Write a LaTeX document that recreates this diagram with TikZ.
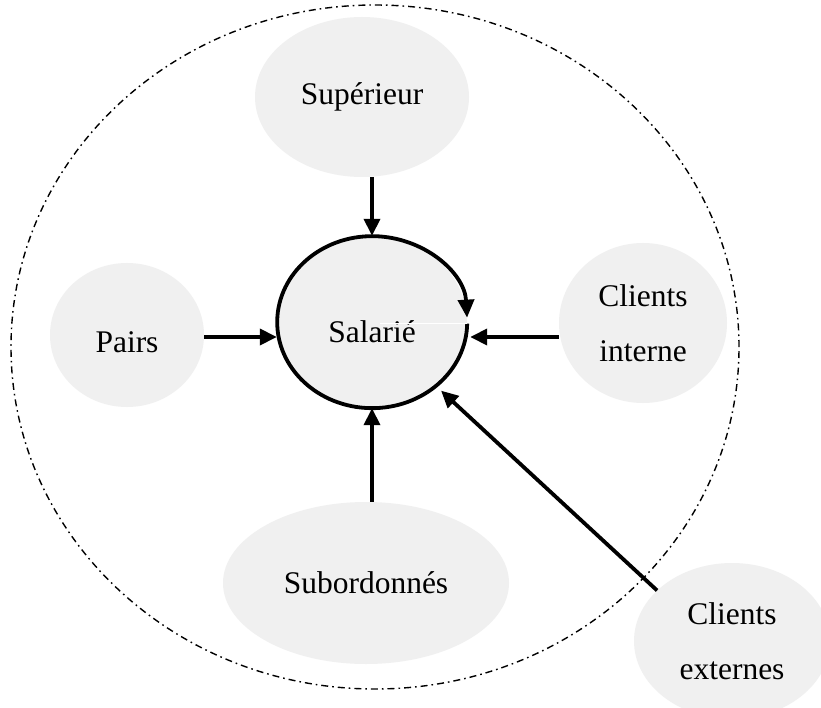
\documentclass[tikz,border=0pt]{standalone}
\usepackage{fontspec}
\setmainfont{Liberation Serif}
\usetikzlibrary{shapes.geometric,arrows.meta}
\definecolor{bubblegray}{RGB}{240,240,240}
\tikzset{
  bubble/.style={ellipse, fill=bubblegray, draw=none, inner sep=0pt, align=center,
    font=\fontsize{31.5}{55}\selectfont},
  arr/.style={line width=3.8pt, -{Triangle[length=17pt,width=16pt]}},
  envline/.style={draw=black, line width=1.4pt, dash pattern=on 7pt off 4pt on 1.6pt off 4pt},
}
\begin{document}
\begin{tikzpicture}[x=1pt, y=-1pt]
  \fill[white] (0,0) rectangle (821,708);
  \useasboundingbox (0,0) rectangle (821,708);

  % environment boundary
  \node[ellipse, envline, inner sep=0pt, minimum width=728pt, minimum height=684pt] (env) at (375,347) {};

  % actors around the employee
  \node[bubble, minimum width=214pt, minimum height=160pt] (sup) at (362,97) {Supérieur};
  \node[bubble, minimum width=154pt, minimum height=144pt,
        label={[font=\fontsize{31.5}{55}\selectfont, yshift=-7pt]center:Pairs}] (pairs) at (127,335) {};
  \node[bubble, minimum width=168pt, minimum height=160pt] (cint) at (643,323) {Clients\\interne};
  \node[bubble, minimum width=286pt, minimum height=162pt] (sub) at (366,583) {Subordonnés};
  \node[bubble, minimum width=196pt, minimum height=156pt] (cext) at (732,641) {Clients\\externes};

  % the employee
  \node[bubble, minimum width=190pt, minimum height=172pt,
        label={[font=\fontsize{31.5}{55}\selectfont, yshift=-10pt]center:Salarié}] (sal) at (372,322) {};
  \draw[line width=3.8pt, -{Triangle[length=18pt,width=16pt]}]
    (sal.-1) arc[start angle=-1, end angle=-357, x radius=95pt, y radius=86pt];
  \draw[white, line width=0.8pt] ([xshift=8pt,yshift=-1pt]sal.center) -- ([yshift=-1pt]sal.east);

  % influences
  \draw[arr] (sal.north |- sup.south) -- (sal.north);
  \draw[arr] (sal.south |- sub.north) -- (sal.south);
  \draw[arr] ([yshift=-2pt]pairs.east) -- ([yshift=-2pt]sal.west |- pairs.east);
  \draw[arr, shorten >=3pt] ([yshift=-2pt]cint.west |- pairs.east) -- ([yshift=-2pt]sal.east |- pairs.east);
  \draw[arr, shorten >=7pt] (cext.146) -- (sal.-45);
\end{tikzpicture}
\end{document}
